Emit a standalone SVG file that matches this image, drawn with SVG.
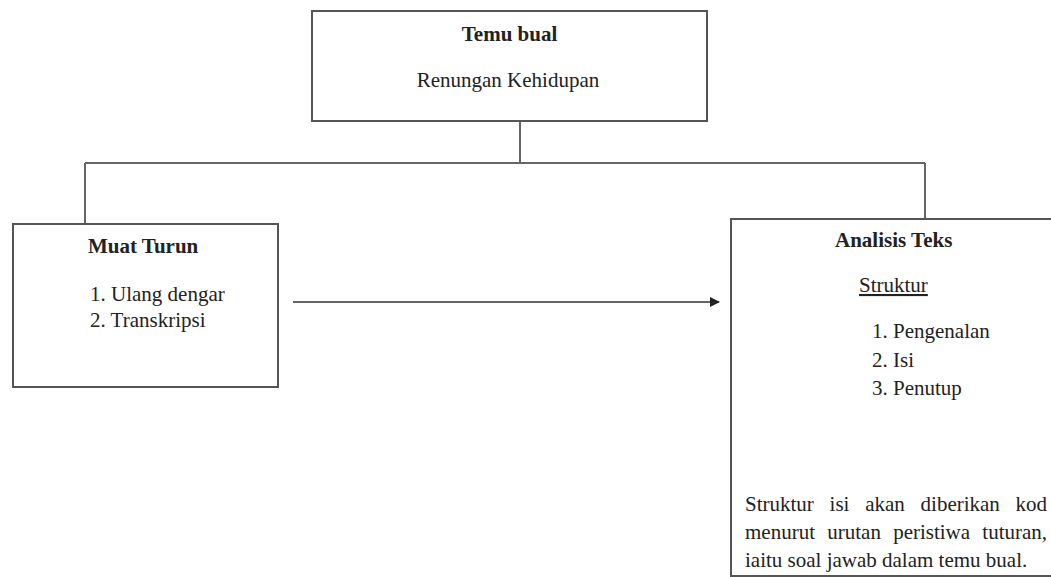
<svg xmlns="http://www.w3.org/2000/svg" width="1051" height="577" viewBox="0 0 1051 577">
<style>
.box{fill:#fff;stroke:#555;stroke-width:2}
.con{fill:none;stroke:#666;stroke-width:2}
text{font-family:"Liberation Serif","Times New Roman",serif;font-size:21px;fill:#222}
.b{font-weight:bold}
</style>
<defs>
<marker id="ah" markerWidth="10" markerHeight="10" refX="9" refY="5" orient="auto" markerUnits="userSpaceOnUse">
<path d="M0,0 L10,5 L0,10 Z" fill="#222"/>
</marker>
</defs>
<rect width="1051" height="577" fill="#fff"/>
<g id="connectors">
<path class="con" d="M520,121 V163 M85,163 H925 M85,163 V224 M925,163 V219"/>
<path class="con" d="M293,302 H719" marker-end="url(#ah)"/>
</g>
<g id="temu-bual">
<rect class="box" x="312" y="11" width="395" height="110"/>
<text class="b" x="509.5" y="41" text-anchor="middle">Temu bual</text>
<text x="508" y="87" text-anchor="middle">Renungan Kehidupan</text>
</g>
<g id="muat-turun">
<rect class="box" x="13" y="224" width="265" height="163"/>
<text class="b" x="88" y="253">Muat Turun</text>
<text x="90" y="301">1. Ulang dengar</text>
<text x="90" y="327">2. Transkripsi</text>
</g>
<g id="analisis-teks">
<rect class="box" x="731" y="219" width="340" height="357"/>
<text class="b" x="835" y="247">Analisis Teks</text>
<text x="859" y="292" text-decoration="underline">Struktur</text>
<text x="872" y="338">1. Pengenalan</text>
<text x="872" y="367">2. Isi</text>
<text x="872" y="395">3. Penutup</text>
<text x="745" y="511" word-spacing="10.5">Struktur isi akan diberikan kod</text>
<text x="745" y="539" word-spacing="7">menurut urutan peristiwa tuturan,</text>
<text x="745" y="567">iaitu soal jawab dalam temu bual.</text>
</g>
</svg>
